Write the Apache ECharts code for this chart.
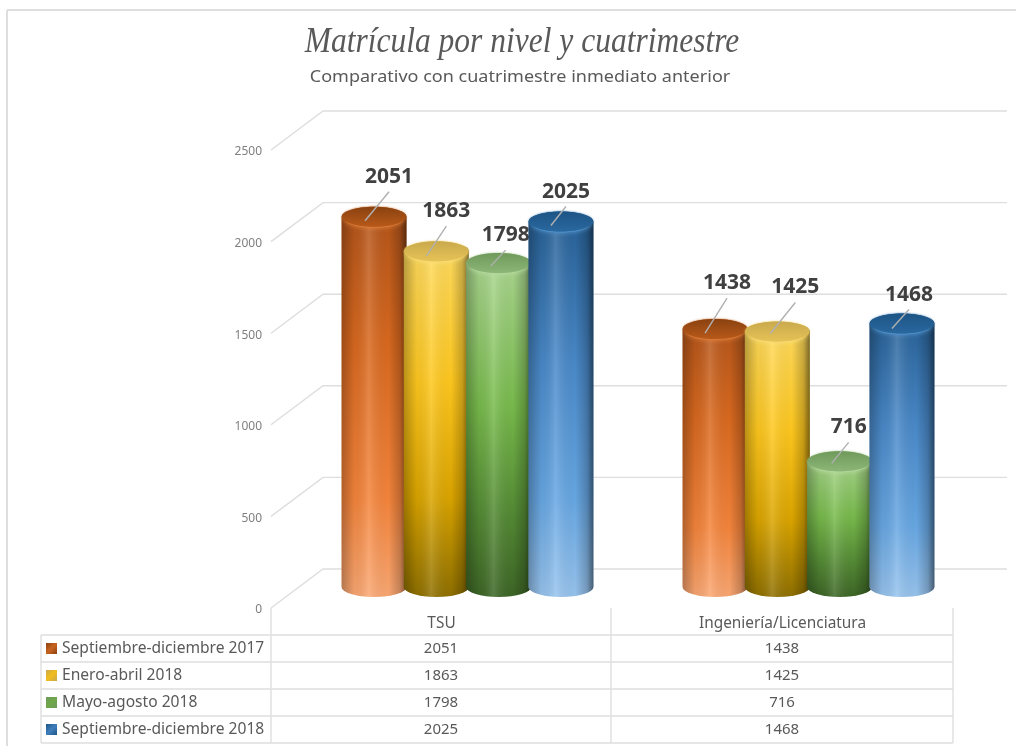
<!DOCTYPE html>
<html><head><meta charset="utf-8">
<style>html,body{margin:0;padding:0;background:#fff}#c{width:1016px;height:746px}</style>
<script src="https://cdn.jsdelivr.net/npm/echarts@6/dist/echarts.min.js"></script>
</head><body><div id="c"></div>
<script>
const categories = ['TSU', 'Ingeniería/Licenciatura'];
const seriesNames = ['Septiembre-diciembre 2017', 'Enero-abril 2018', 'Mayo-agosto 2018', 'Septiembre-diciembre 2018'];
const sep2017 = [2051, 1438];
const ene2018 = [1863, 1425];
const may2018 = [1798, 716];
const sep2018 = [2025, 1468];
const tickValues = [0, 500, 1000, 1500, 2000, 2500];
const seriesValues = [sep2017, ene2018, may2018, sep2018];

// styling
const palettes = [
  {cap:['#8a4210','#b8591a'], rim:'#e5853f', key:'#c8641f', body:[[0,'#b2541a'],[0.35,'#d9691f'],[0.75,'#f5853c'],[1,'#fba873']]},
  {cap:['#c9a94e','#e6c255'], rim:'#ffe27a', key:'#f2bd1c', body:[[0,'#ffdc62'],[0.4,'#ffc81e'],[0.72,'#dca600'],[1,'#8f7000']]},
  {cap:['#6f9a5c','#8cb676'], rim:'#bde0a4', key:'#6fa84a', body:[[0,'#aed894'],[0.45,'#78bb4c'],[0.75,'#558c35'],[1,'#3d6626']]},
  {cap:['#1d5485','#2a689f'], rim:'#5a9cd6', key:'#3f7fbd', body:[[0,'#265f94'],[0.4,'#4a8aca'],[0.75,'#68a8e4'],[1,'#98c4ee']]}
];
const labelOffsets = [
  [[15,-42],[10,-42],[7,-30],[5,-32]],
  [[12,-48],[18,-46],[9,-36],[7,-31]]
];
const leaderEnds = [
  [[-9,4],[-10,5],[-8,3],[-10,4]],
  [[-10,4],[-7,2],[-8,2],[-10,5]]
];
const textGray = '#595959', lineGray = '#dedede';
const depthX = 52, depthY = -39, wallRight = 1007;
const barStep = 62.3, barHalf = 32.5, capRy = 10, midX = 26, topShift = -15.5, baseShift = -21, labelShift = 2;

function cylinderPath(cx, yTop, yBot) {
  const l = cx - barHalf, r = cx + barHalf;
  return `M${l} ${yTop} L${l} ${yBot} A${barHalf} ${capRy} 0 0 0 ${r} ${yBot} L${r} ${yTop} A${barHalf} ${capRy} 0 0 0 ${l} ${yTop} Z`;
}
function vGrad(stops){return {type:'linear',x:0,y:0,x2:0,y2:1,colorStops:stops.map(s=>({offset:s[0],color:s[1]}))};}
const edgeShade = {type:'linear',x:0,y:0,x2:1,y2:0,colorStops:[
  {offset:0,color:'rgba(0,0,0,0.28)'},{offset:0.2,color:'rgba(0,0,0,0.05)'},{offset:0.42,color:'rgba(255,255,255,0.14)'},
  {offset:0.72,color:'rgba(0,0,0,0.02)'},{offset:0.9,color:'rgba(0,0,0,0.22)'},{offset:1,color:'rgba(0,0,0,0.52)'}]};

function cylinderSeries(sIdx) {
  return {
    type:'custom', name:seriesNames[sIdx], clip:false, silent:true, z:3+sIdx,
    data: seriesValues[sIdx].map((v,i)=>[i,v]),
    renderItem(params, api) {
      const c = api.value(0), v = api.value(1);
      const top = api.coord([c, v]), base = api.coord([c, 0]);
      const cx = top[0] + midX + (sIdx-1.5)*barStep;
      const yT = top[1] + topShift, yB = base[1] + baseShift;
      const p = palettes[sIdx];
      const d = cylinderPath(cx, yT, yB);
      const lo = labelOffsets[c][sIdx], le = leaderEnds[c][sIdx];
      const ly = yT + lo[1] + labelShift;
      return {type:'group', children:[
        {type:'path', shape:{pathData:d}, style:{fill:vGrad(p.body)}},
        {type:'path', shape:{pathData:d}, style:{fill:edgeShade}},
        {type:'ellipse', shape:{cx:cx, cy:yT+2, rx:barHalf-3, ry:capRy-1}, style:{fill:p.rim, shadowBlur:5, shadowColor:p.rim}},
        {type:'ellipse', shape:{cx:cx, cy:yT, rx:barHalf-0.5, ry:capRy}, style:{fill:vGrad([[0,p.cap[0]],[1,p.cap[1]]]), shadowBlur:2, shadowColor:p.cap[1]}},
        {type:'line', shape:{x1:cx+lo[0], y1:ly+15, x2:cx+le[0], y2:yT+le[1]}, style:{stroke:'#b0b0b0', lineWidth:1.4}},
        {type:'text', x:cx+lo[0], y:ly, style:{text:String(v), fill:'#404040', font:'bold 21px "Open Sans"', align:'center', verticalAlign:'middle'}}
      ]};
    }
  };
}

const wallSeries = {
  type:'custom', silent:true, clip:false, z:1, data:tickValues.map(t=>[0,t]),
  renderItem(params, api) {
    const p = api.coord([0, api.value(1)]);
    const x0 = api.coord([0,0])[0] - api.size([1,0])[0]/2;
    return {type:'polyline', shape:{points:[[x0,p[1]],[x0+depthX,p[1]+depthY],[wallRight,p[1]+depthY]]},
      style:{fill:'none',stroke:lineGray,lineWidth:1.4}};
  }
};

// data table
const tblX = [41, 271, 611, 953], rowY = [635, 662, 689, 716, 743];
const g = [];
const ln = (x1,y1,x2,y2,w)=>g.push({type:'line',shape:{x1,y1,x2,y2},style:{stroke:lineGray,lineWidth:w||1.4},silent:true});
rowY.forEach(y=>ln(tblX[0],y,tblX[3],y));
ln(tblX[0],rowY[0],tblX[0],rowY[4]);
ln(tblX[1],608,tblX[1],rowY[4]); ln(tblX[2],608,tblX[2],rowY[4]); ln(tblX[3],608,tblX[3],rowY[4]);
ln(7,10,1016,10,2); ln(7,10,7,746,2);
seriesNames.forEach((n,i)=>{
  const yc=(rowY[i]+rowY[i+1])/2;
  const p=palettes[i];
  g.push({type:'rect',shape:{x:46,y:yc-5.5,width:11,height:11},style:{fill:{type:'linear',x:0,y:0,x2:1,y2:1,colorStops:[{offset:0,color:p.cap[0]},{offset:0.5,color:p.key},{offset:1,color:p.cap[0]}]}},silent:true});
  g.push({type:'text',x:62,y:yc+0.5,style:{text:n,fill:textGray,font:'15.6px "Noto Sans"',align:'left',verticalAlign:'middle'},silent:true});
  categories.forEach((cn,c)=>{
    g.push({type:'text',x:(tblX[c+1]+tblX[c+2])/2,y:yc+0.5,style:{text:String(seriesValues[i][c]),fill:textGray,font:'15px "Noto Sans"',align:'center',verticalAlign:'middle'},silent:true});
  });
});
g.push({type:'text',x:522,y:43,scaleX:0.875,style:{text:'Matrícula por nivel y cuatrimestre',fill:'#595959',font:'italic 36px "Liberation Serif"',align:'center',verticalAlign:'middle'},silent:true});
g.push({type:'text',x:520,y:77,scaleX:1.06,style:{text:'Comparativo con cuatrimestre inmediato anterior',fill:'#595959',font:'17px "Noto Sans"',align:'center',verticalAlign:'middle'},silent:true});

const chart = echarts.init(document.getElementById('c'));
chart.setOption({
  animation:false, backgroundColor:'#fff',
  grid:{left:271, width:682, top:150, height:458, containLabel:false},
  xAxis:{type:'category', data:categories, position:'bottom', axisLine:{show:false}, axisTick:{show:false}, splitLine:{show:false},
    axisLabel:{color:textGray, fontSize:15.4, fontFamily:'Noto Sans', margin:8, interval:0}},
  yAxis:{type:'value', min:0, max:2500, interval:500, axisLine:{show:false}, axisTick:{show:false}, splitLine:{show:false},
    axisLabel:{color:'#7f7f7f', fontSize:12, fontFamily:'Noto Sans', margin:9, formatter:v=>String(v), verticalAlign:'top', lineHeight:4}},
  series:[wallSeries, ...seriesValues.map((_,i)=>cylinderSeries(i))],
  graphic:{elements:g}
});
</script></body></html>
